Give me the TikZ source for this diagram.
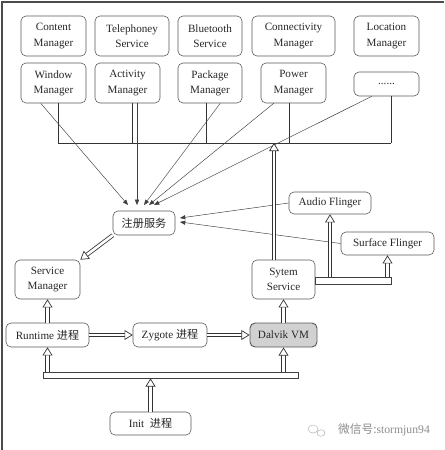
\documentclass[tikz,border=0pt]{standalone}
\usepackage{fontspec}
\setmainfont{Liberation Serif}
\newfontfamily\cjkfont{Noto Sans CJK SC}
\usetikzlibrary{arrows.meta}
\newdimen\pu
\pu=0.03cm

\begin{document}
\begin{tikzpicture}[x=0.03cm, y=-0.03cm,
    box/.style={draw=black!65, line width=0.5pt, rounded corners=5\pu, align=center, inner sep=0pt, text=black!85, font=\fontsize{9.5}{13}\selectfont},
    busline/.style={black!80, line width=0.4pt},
    thin arrow/.style={black!75, line width=0.4pt, -{Triangle[length=4.5pt,width=3.6pt]}},
    hollow/.style={draw=black!80, double=white, double distance=2.2pt, line width=0.7pt, -{Triangle[open,fill=white,length=7pt,width=8.5pt,line width=0.6pt]}},
    hbar/.style={draw=black!75, line width=0.6pt, inner sep=0pt, fill=white},
  ]
    \useasboundingbox (0,0) rectangle (444,450);
    \draw [black!70, line width=1.2pt] (2,450) -- (2,2) -- (444,2);

    % first row of services
    \node [box, minimum width=65\pu, minimum height=40\pu] (content) at (53.5,36) {Content\\Manager};
    \node [box, minimum width=74\pu, minimum height=40\pu] (tel) at (132,36) {Telephoney\\Service};
    \node [box, minimum width=64\pu, minimum height=40\pu] (blue) at (210,36) {Bluetooth\\Service};
    \node [box, minimum width=83\pu, minimum height=40\pu] (conn) at (293.5,36) {Connectivity\\Manager};
    \node [box, minimum width=65\pu, minimum height=40\pu] (loc) at (386.5,36) {Location\\Manager};

    % second row of services
    \node [box, minimum width=65\pu, minimum height=40\pu] (win) at (53.5,83) {Window\\Manager};
    \node [box, minimum width=65\pu, minimum height=40\pu] (act) at (127.5,83) {Activity\\Manager};
    \node [box, minimum width=64\pu, minimum height=40\pu] (pkg) at (210,83) {Package\\Manager};
    \node [box, minimum width=65\pu, minimum height=40\pu] (pow) at (293.5,83) {Power\\Manager};
    \node [box, minimum width=65\pu, minimum height=24\pu] (dots) at (386.5,84) {......};

    \node [box, minimum width=62\pu, minimum height=24\pu] (reg) at (144,223) {\cjkfont 注册服务};
    \node [box, minimum width=82\pu, minimum height=22\pu] (audio) at (330,203) {Audio Flinger};
    \node [box, minimum width=93\pu, minimum height=23\pu] (surf) at (387.5,243.5) {Surface Flinger};
    \node [box, minimum width=65\pu, minimum height=39\pu] (srv) at (47.5,279.5) {Service\\Manager};
    \node [box, minimum width=63\pu, minimum height=39\pu] (sys) at (283.5,279.5) {Sytem\\Service};

    \node [box, minimum width=83\pu, minimum height=24\pu] (rt) at (47.5,335) {Runtime {\cjkfont 进程}};
    \node [box, minimum width=74\pu, minimum height=24\pu] (zy) at (170,335) {Zygote {\cjkfont 进程}};
    \node [box, fill=black!18, line width=0.8pt, minimum width=67\pu, minimum height=24\pu] (dv) at (283.5,335) {Dalvik VM};
    \node [box, minimum width=81\pu, minimum height=23\pu] (init) at (150.5,423.5) {Init\ \ {\cjkfont 进程}};

    \node [hbar, minimum width=255\pu, minimum height=6\pu] (bar) at (170.5,375) {};
    \node [hbar, minimum width=76\pu, minimum height=7\pu] (sbar) at (353,280.5) {};

    % bus under the services
    \coordinate (b1) at (58,143);
    \coordinate (b2) at (132,143);
    \coordinate (b3) at (206,143);
    \coordinate (b4) at (289,143);
    \coordinate (b5) at (391,143);
    \coordinate (bsys) at (274,143);

    \draw [busline] (b1) -- (b5);
    \draw [busline] (win.south -| b1) -- (b1);
    \draw [busline] (act.south -| b2) -- (b2);
    \draw [busline] (pkg.south -| b3) -- (b3);
    \draw [busline] (pow.south -| b4) -- (b4);
    \draw [busline] (dots.south -| b5) -- (b5);

    % registrations
    \coordinate (t1) at (128,205);
    \coordinate (t2) at (137,205);
    \coordinate (t3) at (144,205);
    \coordinate (t4) at (149,205);
    \coordinate (t5) at (154,205);
    \coordinate (t6) at (180,218);
    \coordinate (t7) at (180,222);

    \draw [thin arrow] ([xshift=20\pu]win.south west) -- (t1);
    \draw [thin arrow] (act.south -| t2) -- (t2);
    \draw [thin arrow] ([xshift=-22\pu]pkg.south east) -- (t3);
    \draw [thin arrow] ([xshift=13\pu]pow.south west) -- (t4);
    \draw [thin arrow] ([xshift=18\pu]dots.south west) -- (t5);
    \draw [thin arrow] (audio.west) -- (t6);
    \draw [thin arrow] (surf.west) -- (t7);

    % start-up chain
    \draw [hollow] (reg.south west) -- (srv.north east);
    \draw [hollow] (rt.north) -- (srv.south);
    \draw [hollow] (rt) -- (zy);
    \draw [hollow] (zy) -- (dv);
    \draw [hollow] (dv.north) -- (sys.south);
    \draw [hollow] (sys.north -| bsys) -- (bsys);
    \draw [hollow] (bar.north -| rt) -- (rt.south);
    \draw [hollow] (bar.north -| dv) -- (dv.south);
    \draw [hollow] (init.north) -- (init.north |- bar.south);
    \draw [hollow] (sbar.north -| audio) -- (audio.south);
    \draw [hollow] (sbar.north -| surf) -- (surf.south);

    % watermark
    \draw [black!30] (313,429) ellipse (5 and 4);
    \draw [black!30] (321,433) ellipse (4 and 3.3);
    \node [text=black!45, font=\fontsize{10}{12}\selectfont] (wm) at (384,430) {{\cjkfont 微信号:}stormjun94};
\end{tikzpicture}
\end{document}
